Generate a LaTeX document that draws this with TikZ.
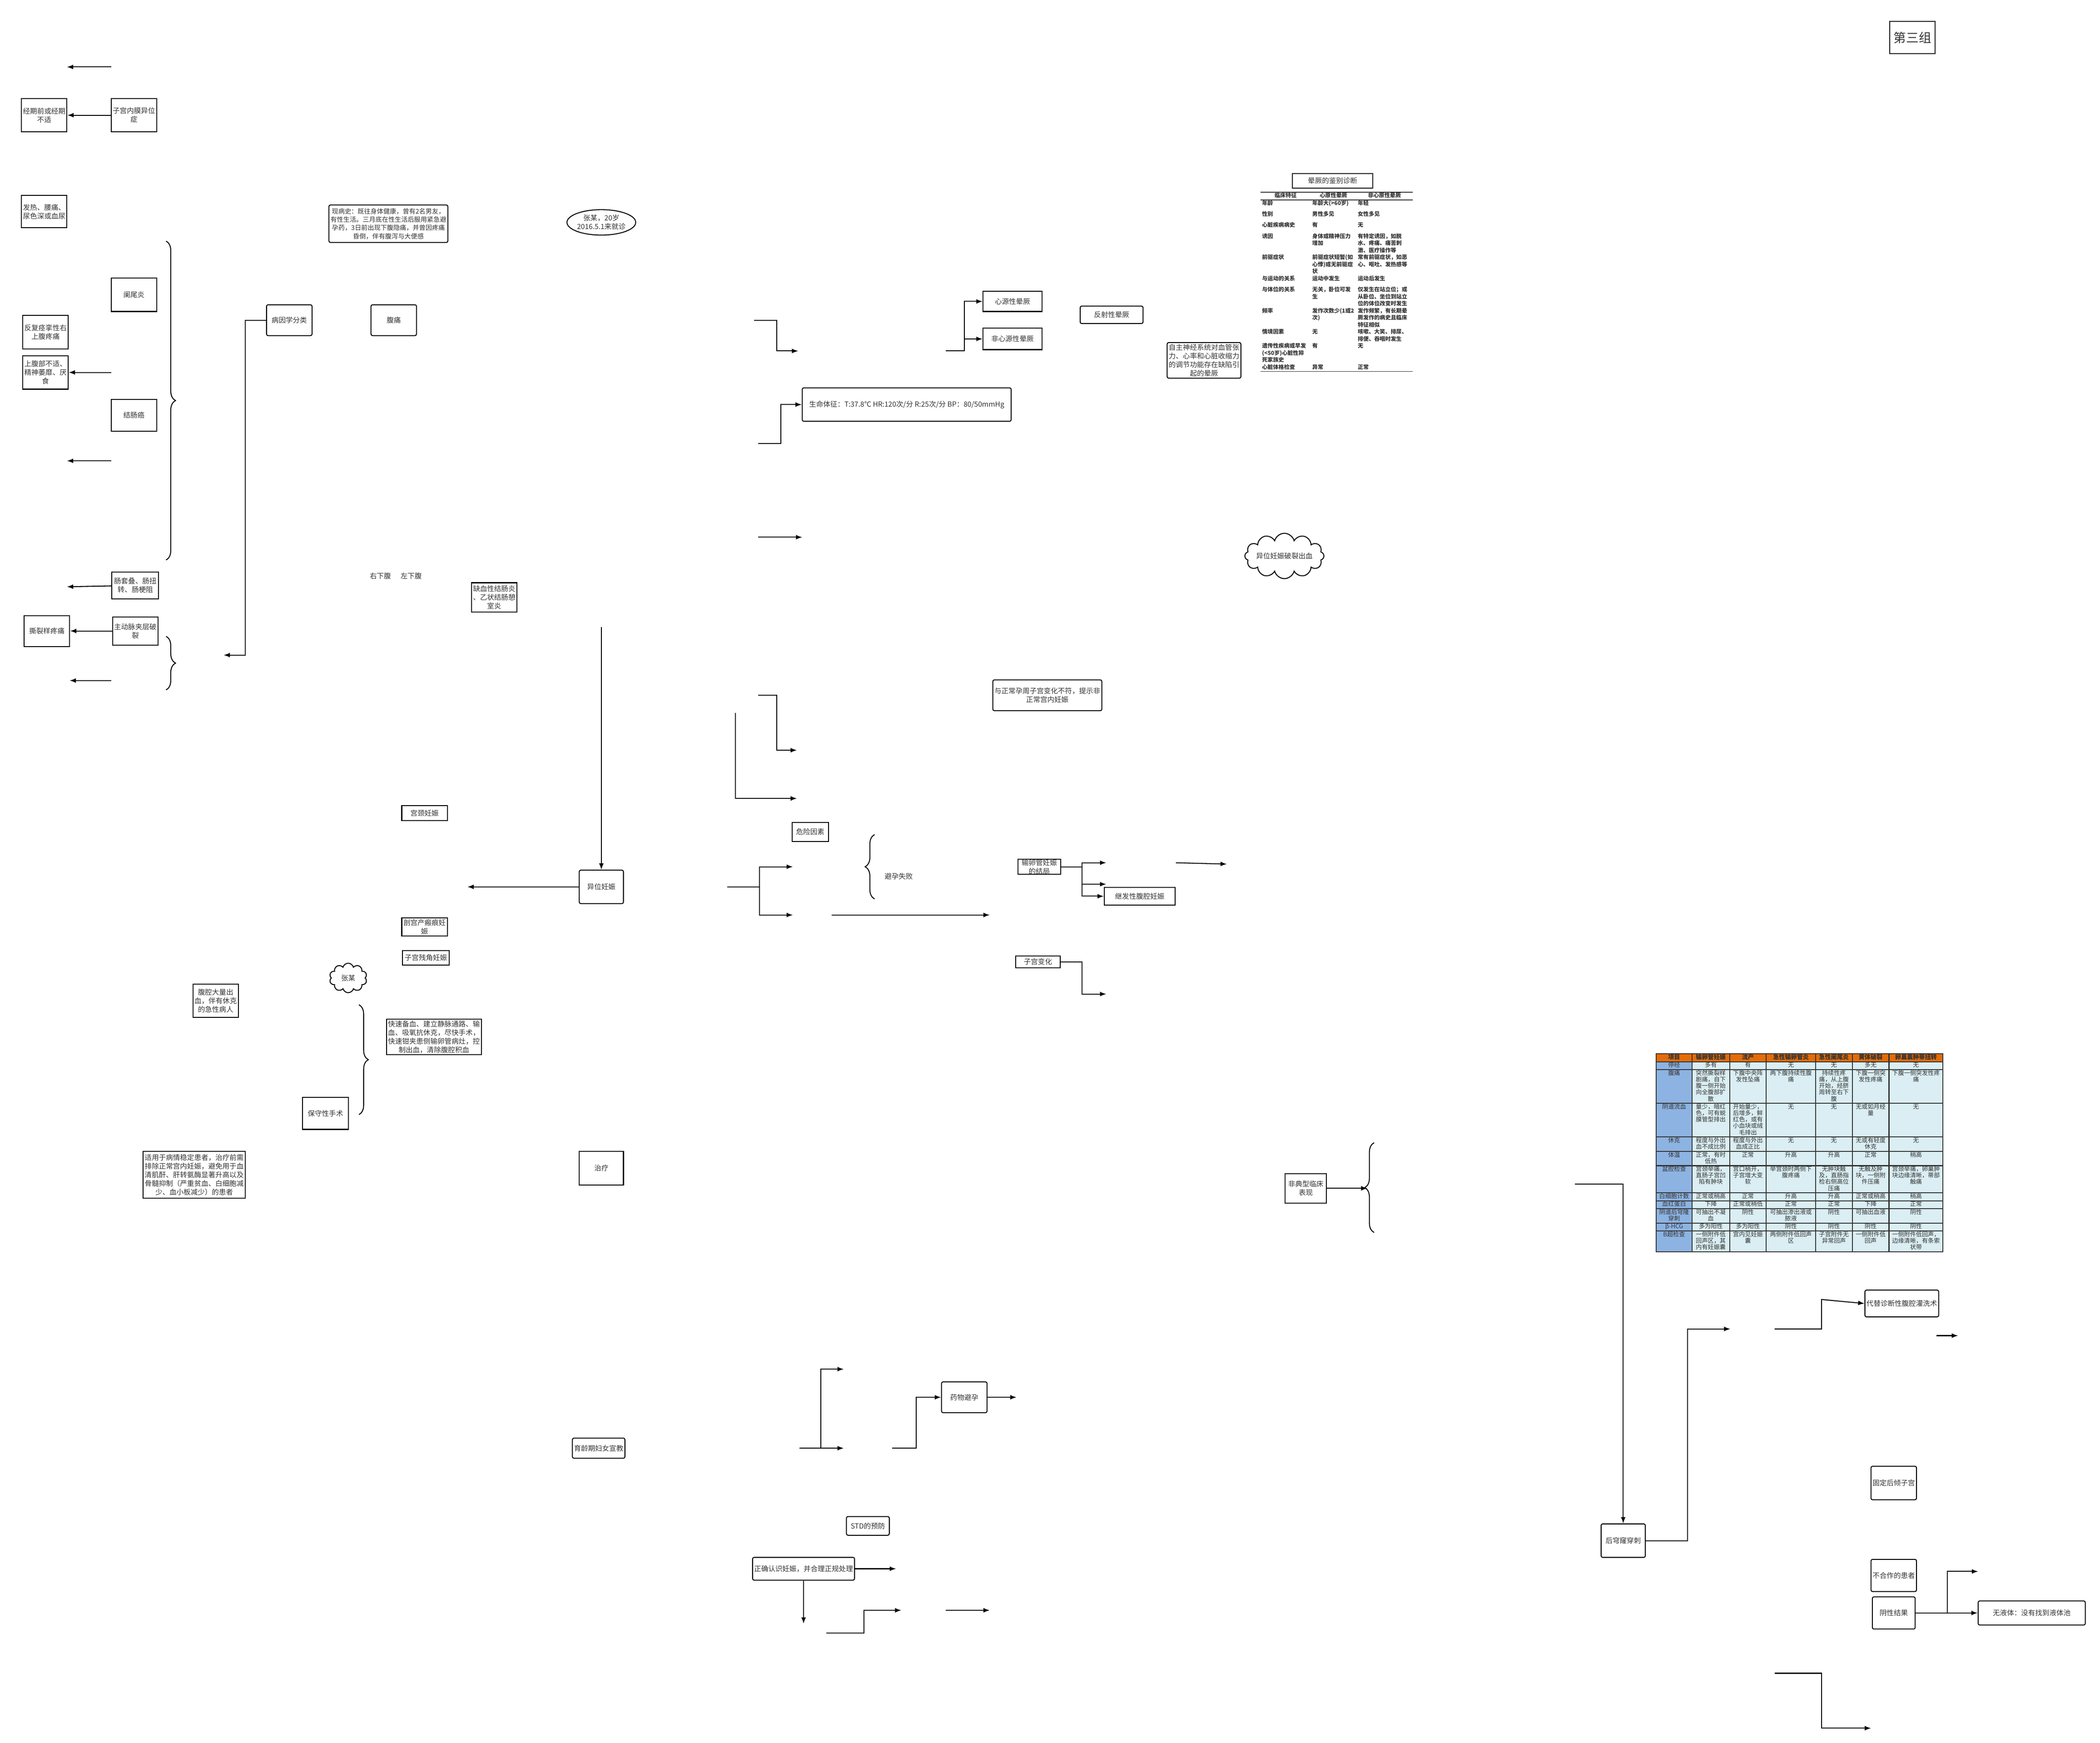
\documentclass[tikz,border=0pt]{standalone}
\usepackage{fontspec}
\setmainfont{Noto Sans CJK SC}
\usepackage{array,colortbl}
\usetikzlibrary{arrows.meta,shapes.geometric,shapes.symbols,decorations.pathreplacing}
\XeTeXlinebreaklocale "zh"
\XeTeXlinebreakskip=0pt plus 1pt
\definecolor{hdr}{HTML}{E46C0A}
\definecolor{fst}{HTML}{8DB3E2}
\definecolor{cel}{HTML}{DAEEF3}
\newcolumntype{C}[1]{>{\centering\arraybackslash}p{#1}}
\newcolumntype{L}[1]{>{\raggedright\arraybackslash}p{#1}}
\tikzset{
  box/.style={draw, line width=0.6pt, align=center, inner sep=1pt},
  rbox/.style={box, rounded corners=1pt},
  sz/.style 2 args={minimum width=#1*0.3mm, minimum height=#2*0.3mm},
  arr/.style={-{Latex[length=4pt,width=3pt]}, line width=0.6pt},
  ln/.style={line width=0.6pt},
  brc/.style={decorate, decoration={brace, amplitude=6pt}, line width=0.6pt},
}
\begin{document}
\begin{tikzpicture}[x=0.3mm, y=-0.3mm, font=\fontsize{4.5}{5.5}\selectfont, text=black!80]
\useasboundingbox (0,0) rectangle (1568,1301);
% title
\node[box, sz={34}{24}, font=\fontsize{8}{9}\selectfont] (grp) at (1428,28) {第三组};

% left column
\node[box, sz={33}{25}] (jingqi) at (33,86) {经期前或经期\\不适};
\node[box, sz={33}{25}] (neimo) at (100,86) {子宫内膜异位\\症};
\node[box, sz={33}{24}] (fare) at (33,158) {发热、腰痛、\\尿色深或血尿};
\node[box, sz={34}{25}] (lanwei) at (100,220) {阑尾炎};
\node[box, sz={33}{25}] (fufu) at (34,248) {反复痉挛性右\\上腹疼痛};
\node[box, sz={33}{25}] (shangfu) at (34,278) {上腹部不适、\\精神萎靡、厌\\食};
\node[box, sz={34}{24}] (jieai) at (100,310) {结肠癌};
\node[box, sz={35}{20}] (changtao) at (101,437) {肠套叠、肠扭\\转、肠梗阻};
\node[box, sz={34}{21}] (zhudong) at (101,471) {主动脉夹层破\\裂};
\node[box, sz={34}{23}] (silie) at (35,471) {撕裂样疼痛};
\coordinate (t1a) at (83,50);  \coordinate (t1b) at (50,50);
\coordinate (t2a) at (83,344); \coordinate (t2b) at (50,344);
\coordinate (t3a) at (83,508); \coordinate (t3b) at (52,508);
\coordinate (t4b) at (50,438);
\draw[arr] (t1a) -- (t1b);
\draw[arr] (neimo) -- (jingqi);
\draw[arr] (shangfu.east -| t2a) -- (shangfu);
\draw[arr] (t2a) -- (t2b);
\draw[arr] (changtao) -- (t4b);
\draw[arr] (zhudong) -- (silie);
\draw[arr] (t3a) -- (t3b);
\draw[brc] (124,180) -- (124,418);
\draw[brc] (124,475) -- (124,515);

% history
\node[rbox, sz={86}{28}, font=\fontsize{4.1}{5.3}\selectfont] (xianbing) at (290,167) {现病史：既往身体健康，曾有2名男友，\\有性生活。三月底在性生活后服用紧急避\\孕药，3日前出现下腹隐痛，并曾因疼痛\\昏倒，伴有腹泻与大便感};
\node[ellipse, draw, line width=0.6pt, sz={49}{19}, align=center, inner sep=0pt] (zhang) at (449,166) {张某，20岁\\2016.5.1来就诊};
\node[rbox, sz={34}{23}] (bingyin) at (216,239) {病因学分类};
\node[rbox, sz={34}{23}] (futong) at (294,239) {腹痛};
\coordinate (by) at (167,489);
\draw[arr] (bingyin.west) -- (183,239) |- (by);
\node (youxia) at (284,430) {右下腹};
\node (zuoxia) at (307,430) {左下腹};
\node[box, sz={33}{22}] (quexue) at (369,446) {缺血性结肠炎\\、乙状结肠憩\\室炎};

% ectopic pregnancy
\node[rbox, sz={33}{25}] (yiwei) at (449,662) {异位妊娠};
\coordinate (yw1) at (449,468); \coordinate (yw2) at (349,662);
\draw[arr] (yw1) -- (yiwei);
\draw[arr] (yiwei) -- (yw2);
\node[box, sz={34}{11}] (gongjing) at (317,607) {宫颈妊娠};
\node[box, sz={34}{11}] (pougong) at (317,692) {剖宫产瘢痕妊\\娠};
\node[box, sz={35}{11}] (canjiao) at (318,715) {子宫残角妊娠};
\node[cloud, draw, line width=0.6pt, cloud puffs=10, aspect=1.2, inner sep=0pt, sz={28}{22}] (cloud1) at (260,730) {张某};
\node[box, sz={34}{25}] (daliang) at (161,747) {腹腔大量出\\血，伴有休克\\的急性病人};
\draw[brc] (268,750) -- (268,832);
\node[box, sz={64}{25}] (kuaisu) at (324,774) {快速备血、建立静脉通路、输\\血、吸氧抗休克，尽快手术，\\快速钳夹患侧输卵管病灶，控\\制出血，清除腹腔积血};
\node[box, sz={34}{24}] (baoshou) at (243,831) {保守性手术};
\node[box, sz={70}{35}] (shiyong) at (145,877) {适用于病情稳定患者，治疗前需\\排除正常宫内妊娠，避免用于血\\清肌酐、肝转氨酶显著升高以及\\骨髓抑制（严重贫血、白细胞减\\少、血小板减少）的患者};
\node[box, sz={33}{25}] (zhiliao) at (449,872) {治疗};
\node[rbox, sz={39}{15}] (yuling) at (447,1081) {育龄期妇女宣教};

% vital signs, syncope
\node[rbox, sz={156}{25}] (shengming) at (677,302) {生命体征：T:37.8℃ HR:120次/分 R:25次/分 BP：80/50mmHg};
\draw[arr] (563,239) -| (580,262) -- (596,262);
\draw[arr] (566,331) -| (583,302) -- (shengming.west);
\draw[arr] (566,401) -- (599,401);
\node[box, sz={44}{15}] (xinyuan) at (756,225) {心源性晕厥};
\node[box, sz={44}{16}] (feixin) at (756,253) {非心源性晕厥};
\draw[arr] (706,262) -| (720,225) -- (xinyuan.west);
\draw[arr] (720,253) -- (feixin.west);
\node[rbox, sz={47}{13}] (fanshe) at (830,235) {反射性晕厥};
\node[rbox, sz={54}{25}] (zizhu) at (899,269) {自主神经系统对血管张\\力、心率和心脏收缩力\\的调节功能存在缺陷引\\起的晕厥};
\node[box, sz={60}{11}] (ttl) at (995,135) {晕厥的鉴别诊断};
\node[inner sep=0pt, font=\fontsize{3.5}{4.5}\selectfont\bfseries, anchor=north] (tab1) at (998,143) {%
\setlength{\tabcolsep}{1pt}%
\begin{tabular}{L{30pt}L{27pt}L{34pt}}
\hline
\multicolumn{1}{c}{临床特征} & \multicolumn{1}{c}{心原性晕厥} & \multicolumn{1}{c}{非心原性晕厥}\\ \hline
年龄 & 年龄大(>60岁) & 年轻\\[2.5pt]
性别 & 男性多见 & 女性多见\\[2.5pt]
心脏疾病病史 & 有 & 无\\[2.5pt]
诱因 & 身体或精神压力增加 & 有特定诱因，如脱水、疼痛、痛苦刺激、医疗操作等\\[2.5pt]
前驱症状 & 前驱症状短暂(如心悸)或无前驱症状 & 常有前驱症状，如恶心、呕吐、发热感等\\[2.5pt]
与运动的关系 & 运动中发生 & 运动后发生\\[2.5pt]
与体位的关系 & 无关，卧位可发生 & 仅发生在站立位；或从卧位、坐位到站立位的体位改变时发生\\[2.5pt]
频率 & 发作次数少(1或2次) & 发作频繁，有长期晕厥发作的病史且临床特征相似\\[2.5pt]
情境因素 & 无 & 咳嗽、大笑、排尿、排便、吞咽时发生\\[2.5pt]
遗传性疾病或早发(<50岁)心脏性猝死家族史 & 有 & 无\\[2.5pt]
心脏体格检查 & 异常 & 正常\\ \hline
\end{tabular}};
\node[cloud, draw, line width=0.6pt, cloud puffs=12, aspect=2.4, inner sep=-1pt] (cloud2) at (959,415) {异位妊娠破裂出血};

% uterus, risk factors
\node[rbox, sz={75}{23}] (yuzheng) at (782,519) {与正常孕周子宫变化不符，提示非\\正常宫内妊娠};
\draw[arr] (566,519) -| (580,560) -- (595,560);
\draw[arr] (549,532) |- (595,596);
\node[box, sz={27}{14}] (weixian) at (605,621) {危险因素};
\draw[ln] (543,662) -- (567,662);
\draw[arr] (567,662) |- (592,647);
\draw[arr] (567,662) |- (592,683);
\draw[arr] (621,683) -- (739,683);
\draw[brc] (653,671) -- (653,623);
\node (biyun) at (671,654) {避孕失败};
\node[box, sz={32}{10}, inner sep=0pt] (jieju) at (776,647) {输卵管妊娠\\的结局};
\node[box, sz={53}{13}] (jifa) at (851,669) {继发性腹腔妊娠};
\draw[ln] (jieju.east) -- (808,647);
\draw[arr] (808,647) |- (826,644);
\draw[arr] (808,647) |- (826,660);
\draw[arr] (808,647) |- (jifa.west);
\draw[arr] (878,644) -- (916,645);
\node[box, sz={33}{9}] (zigong) at (775,718) {子宫变化};
\draw[arr] (zigong.east) -| (808,742) -- (826,742);

% atypical, puncture
\node[box, sz={31}{22}] (feidian) at (975,887) {非典型临床\\表现};
\draw[arr] (feidian) -- (1021,887);
\draw[brc] (1026,920) -- (1026,853);
\node[rbox, sz={33}{25}] (houqiong) at (1212,1150) {后穹窿穿刺};
\draw[arr] (1176,884) -| (houqiong.north);
\draw[arr] (houqiong.east) -| (1260,992) -- (1292,992);
\node[rbox, sz={52}{20}] (daiti) at (1420,973) {代替诊断性腹腔灌洗术};
\draw[arr] (1325,992) -| (1360,970) -- (daiti.west);
\draw[arr] (1446,997) -- (1462,997);
\node[rbox, sz={32}{25}] (guding) at (1414,1107) {固定后倾子宫};
\node[rbox, sz={32}{24}] (buhezuo) at (1414,1176) {不合作的患者};
\node[rbox, sz={32}{24}] (yinxing) at (1414,1204) {阴性结果};
\node[rbox, sz={80}{18}] (wuye) at (1517,1204) {无液体：没有找到液体池};
\draw[arr] (yinxing.east) -- (1454,1204) |- (1477,1173);
\draw[arr] (1454,1204) -- (wuye.west);
\draw[arr] (1325,1249) -| (1360,1290) -- (1397,1290);
\node[inner sep=0pt, font=\fontsize{3.8}{4.1}\selectfont, anchor=north west] (tab2) at (1236,786) {%
\setlength{\tabcolsep}{0.4pt}\arrayrulewidth=0.6pt%
\begin{tabular}{|C{21.5pt}|C{22.5pt}|C{22pt}|C{30pt}|C{22pt}|C{22pt}|C{33pt}|}
\hline
\rowcolor{hdr}\textbf{项目} & \textbf{输卵管妊娠} & \textbf{流产} & \textbf{急性输卵管炎} & \textbf{急性阑尾炎} & \textbf{黄体破裂} & \textbf{卵巢囊肿蒂扭转}\\ \hline
\cellcolor{fst}停经 & \cellcolor{cel}多有 & \cellcolor{cel}有 & \cellcolor{cel}无 & \cellcolor{cel}无 & \cellcolor{cel}多无 & \cellcolor{cel}无\\ \hline
\cellcolor{fst}腹痛 & \cellcolor{cel}突然撕裂样剧痛，自下腹一侧开始向全腹部扩散 & \cellcolor{cel}下腹中央阵发性坠痛 & \cellcolor{cel}两下腹持续性腹痛 & \cellcolor{cel}持续性疼痛，从上腹开始，经脐周转至右下腹 & \cellcolor{cel}下腹一侧突发性疼痛 & \cellcolor{cel}下腹一侧突发性疼痛\\ \hline
\cellcolor{fst}阴道流血 & \cellcolor{cel}量少，暗红色，可有蜕膜管型排出 & \cellcolor{cel}开始量少，后增多，鲜红色，或有小血块或绒毛排出 & \cellcolor{cel}无 & \cellcolor{cel}无 & \cellcolor{cel}无或如月经量 & \cellcolor{cel}无\\ \hline
\cellcolor{fst}休克 & \cellcolor{cel}程度与外出血不成比例 & \cellcolor{cel}程度与外出血成正比 & \cellcolor{cel}无 & \cellcolor{cel}无 & \cellcolor{cel}无或有轻度休克 & \cellcolor{cel}无\\ \hline
\cellcolor{fst}体温 & \cellcolor{cel}正常，有时低热 & \cellcolor{cel}正常 & \cellcolor{cel}升高 & \cellcolor{cel}升高 & \cellcolor{cel}正常 & \cellcolor{cel}稍高\\ \hline
\cellcolor{fst}盆腔检查 & \cellcolor{cel}宫颈举痛，直肠子宫凹陷有肿块 & \cellcolor{cel}宫口稍开，子宫增大变软 & \cellcolor{cel}举宫颈时两侧下腹疼痛 & \cellcolor{cel}无肿块触及，直肠指检右侧高位压痛 & \cellcolor{cel}无触及肿块，一侧附件压痛 & \cellcolor{cel}宫颈举痛，卵巢肿块边缘清晰，蒂部触痛\\ \hline
\cellcolor{fst}白细胞计数 & \cellcolor{cel}正常或稍高 & \cellcolor{cel}正常 & \cellcolor{cel}升高 & \cellcolor{cel}升高 & \cellcolor{cel}正常或稍高 & \cellcolor{cel}稍高\\ \hline
\cellcolor{fst}血红蛋白 & \cellcolor{cel}下降 & \cellcolor{cel}正常或稍低 & \cellcolor{cel}正常 & \cellcolor{cel}正常 & \cellcolor{cel}下降 & \cellcolor{cel}正常\\ \hline
\cellcolor{fst}阴道后穹隆穿刺 & \cellcolor{cel}可抽出不凝血 & \cellcolor{cel}阴性 & \cellcolor{cel}可抽出渗出液或脓液 & \cellcolor{cel}阴性 & \cellcolor{cel}可抽出血液 & \cellcolor{cel}阴性\\ \hline
\cellcolor{fst}β-HCG & \cellcolor{cel}多为阳性 & \cellcolor{cel}多为阳性 & \cellcolor{cel}阴性 & \cellcolor{cel}阴性 & \cellcolor{cel}阴性 & \cellcolor{cel}阴性\\ \hline
\cellcolor{fst}B超检查 & \cellcolor{cel}一侧附件低回声区，其内有妊娠囊 & \cellcolor{cel}宫内见妊娠囊 & \cellcolor{cel}两侧附件低回声区 & \cellcolor{cel}子宫附件无异常回声 & \cellcolor{cel}一侧附件低回声 & \cellcolor{cel}一侧附件低回声，边缘清晰，有条索状带\\ \hline
\end{tabular}};

% prevention
\draw[ln] (597,1081) -- (613,1081);
\draw[arr] (613,1081) |- (630,1022);
\draw[arr] (613,1081) -- (630,1081);
\node[rbox, sz={34}{23}] (yaowu) at (720,1043) {药物避孕};
\draw[arr] (666,1081) -| (684,1043) -- (yaowu.west);
\draw[arr] (yaowu.east) -- (759,1043);
\node[rbox, sz={32}{14}] (std) at (648,1139) {STD的预防};
\node[rbox, sz={74}{17}] (zhengque) at (600,1171) {正确认识妊娠，并合理正规处理};
\draw[arr] (zhengque.east) -- (669,1171);
\draw[arr] (zhengque.south) -- (600,1212);
\draw[arr] (617,1219) -| (645,1202) -- (673,1202);
\draw[arr] (706,1202) -- (739,1202);
\end{tikzpicture}
\end{document}
